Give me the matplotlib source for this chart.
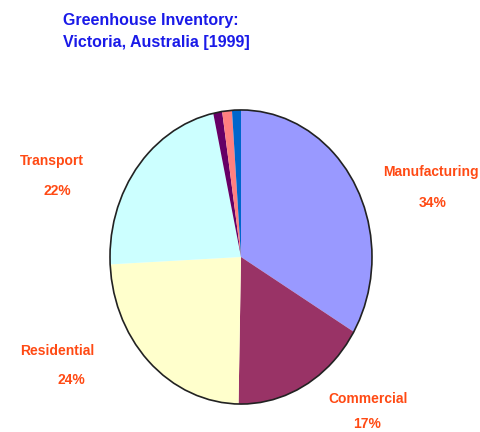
import matplotlib.pyplot as plt
from matplotlib.patches import Circle

plt.rcParams['font.family'] = ['Liberation Sans', 'DejaVu Sans']

sectors = ['Manufacturing', 'Commercial', 'Residential', 'Transport', 'Other 1', 'Other 2', 'Other 3']
shares = [33.5, 16.8, 23.9, 22.4, 1.1, 1.2, 1.1]
colors = ['#9999FF', '#993366', '#FFFFCC', '#CCFFFF', '#660066', '#FF8080', '#0066CC']
labels = ['Manufacturing', 'Commercial', 'Residential', 'Transport']
label_pct = ['34%', '17%', '24%', '22%']

W, H = 480, 432
fig = plt.figure(figsize=(W / 100, H / 100), dpi=100)
fig.patch.set_facecolor('white')

# ellipse spans roughly x 110..372, y 110..404 in pixels
ax = fig.add_axes([108.7 / W, (H - 405.5) / H, 264.6 / W, 297 / H])
ax.pie(shares, colors=colors, startangle=90, counterclock=False,
       wedgeprops={'edgecolor': 'none', 'linewidth': 0})
# only the outer rim is outlined in the original
ax.add_patch(Circle((0, 0), 1, fill=False, edgecolor='#222222', linewidth=1.2))
ax.set_aspect('auto')
ax.set_xlim(-1.01, 1.01)
ax.set_ylim(-1.01, 1.01)
ax.axis('off')

def px(x, y):
    return x / W, 1 - y / H

fig.text(*px(63, 20), 'Greenhouse Inventory:', color='#1A1AE8', fontsize=11.5,
         fontweight='bold', ha='left', va='center')
fig.text(*px(63, 43), 'Victoria, Australia [1999]', color='#1A1AE8', fontsize=11.5,
         fontweight='bold', ha='left', va='center')

name_pos = [(431, 172), (368, 399), (57, 351), (52, 161)]
pct_pos = [(433, 203), (367, 424), (71, 380), (57, 191)]
for name, pct, p1, p2 in zip(labels, label_pct, name_pos, pct_pos):
    fig.text(*px(*p1), name, color='#FF4A14', fontsize=10, fontweight='bold',
             ha='center', va='center')
    fig.text(*px(*p2), pct, color='#FF4A14', fontsize=10, fontweight='bold',
             ha='center', va='center')

fig.savefig('out.png', dpi=100, facecolor='white')
